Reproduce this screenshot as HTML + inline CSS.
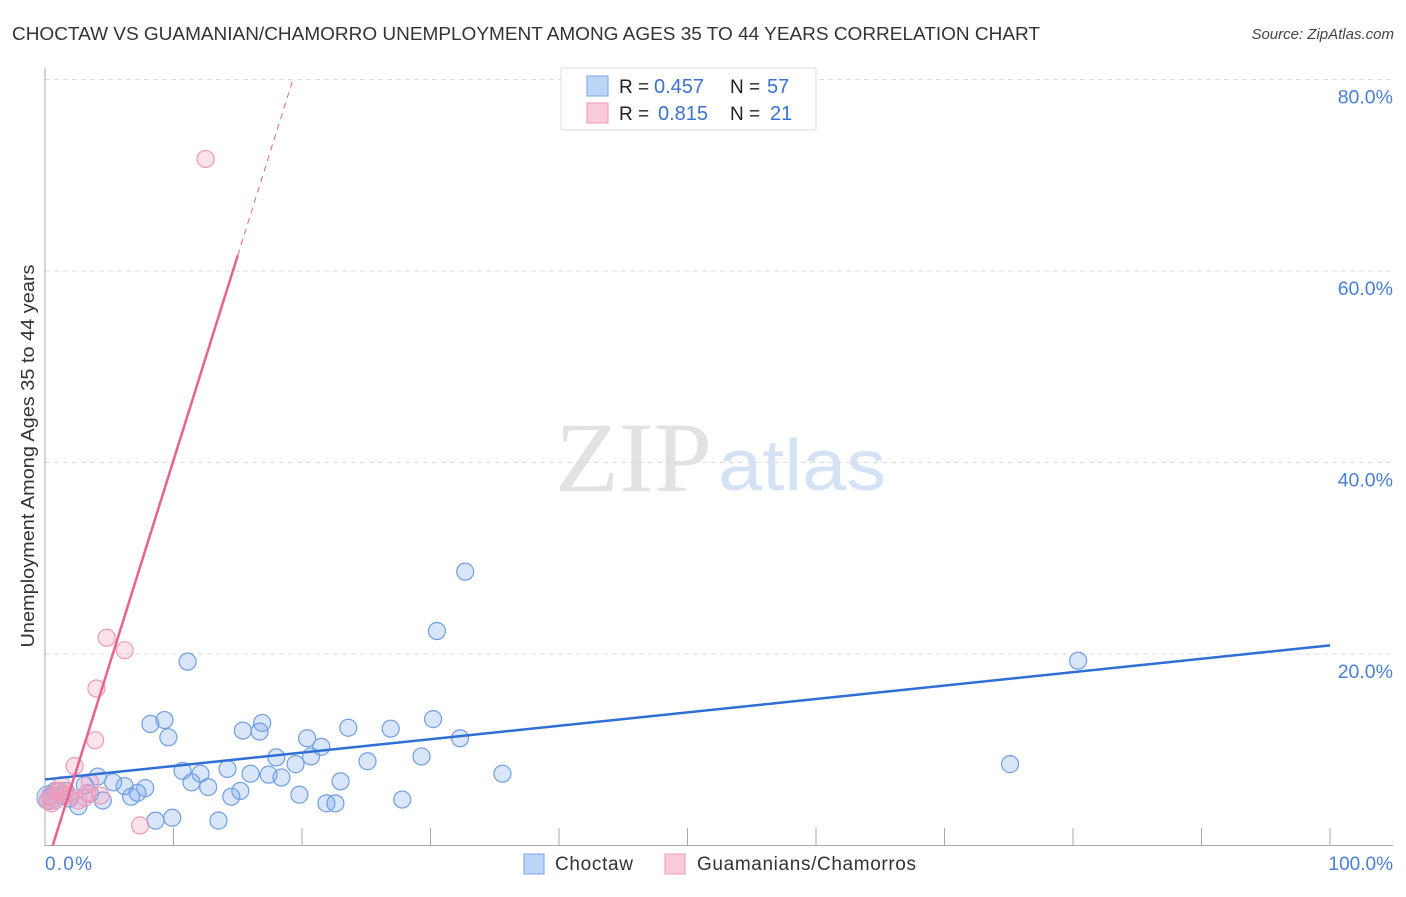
<!DOCTYPE html>
<html><head><meta charset="utf-8"><style>
body{margin:0;background:#fff;font-family:"Liberation Sans",sans-serif;}
svg text{font-family:"Liberation Sans",sans-serif;}
svg text.serif{font-family:"Liberation Serif",serif;}
</style></head><body>
<svg id="chart" width="1406" height="892" xmlns="http://www.w3.org/2000/svg">
<text x="12" y="40" font-size="18.5" fill="#333" textLength="1028" lengthAdjust="spacingAndGlyphs">CHOCTAW VS GUAMANIAN/CHAMORRO UNEMPLOYMENT AMONG AGES 35 TO 44 YEARS CORRELATION CHART</text>
<text x="1394" y="39" font-size="15" fill="#444" font-style="italic" text-anchor="end">Source: ZipAtlas.com</text>
<g>
<text class="serif" x="555" y="491" font-size="100" fill="#e2e2e2" textLength="157" lengthAdjust="spacingAndGlyphs">ZIP</text>
<text x="718" y="490" font-size="72" fill="#d4e2f6" textLength="168" lengthAdjust="spacingAndGlyphs">atlas</text>
</g>
<g id="grid"></g>
<g id="axes"></g>
<g id="marks"></g>
<text transform="translate(34,456) rotate(-90)" font-size="18" fill="#333" text-anchor="middle" textLength="383" lengthAdjust="spacingAndGlyphs">Unemployment Among Ages 35 to 44 years</text>
<text x="45" y="870" font-size="19" fill="#4a7fd8" textLength="47">0.0%</text>
<text x="1393" y="870" font-size="19" fill="#4a7fd8" text-anchor="end">100.0%</text>
<g>
<rect x="561" y="68" width="255" height="62" fill="#fff" stroke="#ddd"/>
<rect x="587" y="76" width="21" height="20" fill="#bcd5f6" stroke="#7aa6e6"/>
<rect x="587" y="103" width="21" height="20" fill="#fbcbd9" stroke="#ee9ab6"/>
<text x="619" y="93" font-size="19" fill="#222">R =</text>
<text x="654" y="93" font-size="20" fill="#3a72d0">0.457</text>
<text x="730" y="93" font-size="19" fill="#222">N =</text>
<text x="767" y="93" font-size="20" fill="#3a72d0">57</text>
<text x="619" y="120" font-size="19" fill="#222">R =</text>
<text x="658" y="120" font-size="20" fill="#3a72d0">0.815</text>
<text x="730" y="120" font-size="19" fill="#222">N =</text>
<text x="770" y="120" font-size="20" fill="#3a72d0">21</text>
</g>
<g>
<rect x="524" y="854" width="20" height="20" fill="#bcd5f6" stroke="#7aa6e6"/>
<text x="555" y="870" font-size="19" fill="#333" textLength="78">Choctaw</text>
<rect x="665" y="854" width="20" height="20" fill="#fbcbd9" stroke="#ee9ab6"/>
<text x="697" y="870" font-size="19" fill="#333" textLength="219">Guamanians/Chamorros</text>
</g>
</svg>
<script>
const yTicks=[20,40,60,80];
const xTicks=[0,10,20,30,40,50,60,70,80,90,100];
const blueX=[80.4,32.7,30.5,11.1,75.1,35.6,30.2,32.3,23.6,26.9,16.9,15.4,16.7,9.3,8.2,9.6,20.4,21.5,20.7,18.0,29.3,25.1,19.5,10.7,12.1,14.2,16.0,17.4,18.4,11.4,12.7,15.2,14.5,23.0,19.8,27.8,21.9,22.6,8.6,9.9,13.5,4.1,5.3,6.2,7.8,6.7,7.2,4.5,3.5,2.6,1.9,1.3,0.8,0.4,0.2,3.1,1.6];
const blueY=[19.3,28.6,22.4,19.2,8.5,7.5,13.2,11.2,12.3,12.2,12.8,12.0,11.9,13.1,12.7,11.3,11.2,10.3,9.3,9.2,9.3,8.8,8.5,7.8,7.5,8.0,7.5,7.4,7.1,6.6,6.1,5.7,5.1,6.7,5.3,4.8,4.4,4.4,2.6,2.9,2.6,7.2,6.6,6.2,6.0,5.1,5.5,4.7,5.4,4.1,4.9,5.2,5.7,5.1,4.7,6.3,5.7];
const pinkX=[12.5,4.8,6.2,4.0,3.9,2.3,3.5,3.1,1.2,0.4,1.6,7.4,2.6,0.8,0.2,1.9,1.3,4.3,3.3,0.5,1.0];
const pinkY=[71.7,21.7,20.4,16.4,11.0,8.3,6.6,5.0,5.7,5.2,5.4,2.1,4.7,4.7,4.7,5.2,6.3,5.2,5.5,4.4,5.7];
const blueTrend=[6.9,20.9]; // y at x=0 and x=100
const pinkTrend=[-2.57,4.28]; // intercept, slope
const X=v=>45+v*12.85, Y=v=>845.5-v*9.575;
const NS="http://www.w3.org/2000/svg";
function mk(parent,tag,attrs){const e=document.createElementNS(NS,tag);for(const k in attrs)e.setAttribute(k,attrs[k]);document.getElementById(parent).appendChild(e);return e;}
yTicks.forEach(t=>{
 const l=mk('grid','line',{x1:45,x2:1393,y1:Y(t),y2:Y(t),stroke:'#ddd','stroke-dasharray':'5,4'});
 
 
 const tx=mk('grid','text',{x:1393,y:Y(t)+24,'font-size':19.5,fill:'#4a7fd8','text-anchor':'end'});
 tx.textContent=t.toFixed(1)+'%';
 
 
});
const ax=mk('axes','path',{d:'M45 68 V845.5 H1393',stroke:'#aaa',fill:'none'});


xTicks.forEach(t=>{
 const l=mk('axes','line',{x1:X(t),x2:X(t),y1:828,y2:845,stroke:'#aaa'});
 
 
});
const big=mk('marks','circle',{cx:X(0.3),cy:Y(5),r:12,fill:'rgba(120,160,230,0.3)',stroke:'#7aa6e6'});


blueX.forEach((v,i)=>{
 const c=mk('marks','circle',{cx:X(v),cy:Y(blueY[i]),r:8.5,fill:'rgba(130,170,235,0.3)',stroke:'#6e9ee4','stroke-width':1.2});
 
 
});
pinkX.forEach((v,i)=>{
 const c=mk('marks','circle',{cx:X(v),cy:Y(pinkY[i]),r:8.5,fill:'rgba(245,160,190,0.3)',stroke:'#ee9ab6','stroke-width':1.2});
 
 
});
const bl=mk('marks','line',{x1:X(0),y1:Y(blueTrend[0]),x2:X(100),y2:Y(blueTrend[1]),stroke:'#2f6fd6','stroke-width':2.5});


const px0=-pinkTrend[0]/pinkTrend[1], px1=15.0, px2=19.3;
const pl=mk('marks','line',{x1:X(px0),y1:Y(0),x2:X(px1),y2:Y(pinkTrend[0]+pinkTrend[1]*px1),stroke:'#e8628f','stroke-width':2.5});


const pd=mk('marks','line',{x1:X(px1),y1:Y(pinkTrend[0]+pinkTrend[1]*px1),x2:X(px2),y2:Y(pinkTrend[0]+pinkTrend[1]*px2),stroke:'#e8628f','stroke-width':1,'stroke-dasharray':'6,5'});


</script>
</body></html>
